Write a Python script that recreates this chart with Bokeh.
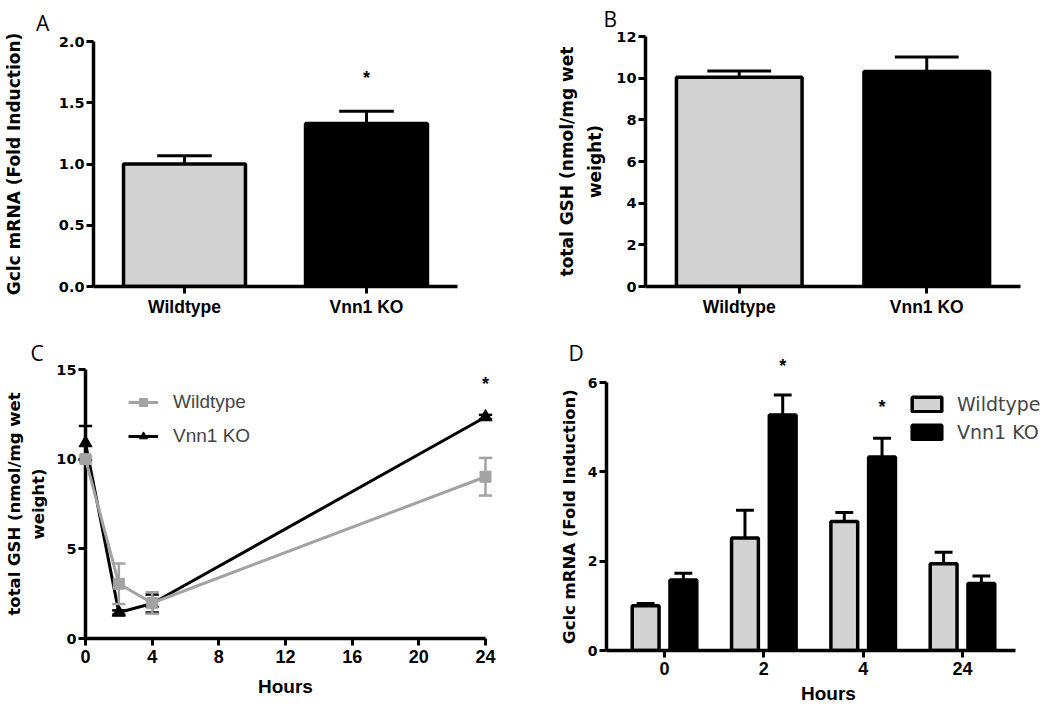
from bokeh.plotting import figure
from bokeh.models import (Range1d, FixedTicker, Legend, LegendItem, ColumnDataSource)
from bokeh.layouts import row, column
from bokeh.embed import file_html
from bokeh.resources import INLINE
from bokeh.core.properties import value

# ---------------- data ----------------
groups = ["Wildtype", "Vnn1 KO"]
a_mean = [1.00, 1.33]
a_err = [0.067, 0.10]
a_star_group = ["Vnn1 KO"]
a_star_y = [1.70]

b_mean = [10.05, 10.32]
b_err = [0.30, 0.70]

c_hours = [0, 2, 4, 24]
c_wt = [10.0, 3.05, 1.98, 9.02]
c_wt_err = [0.15, 1.13, 0.60, 1.05]
c_ko = [10.9, 1.45, 1.95, 12.35]
c_ko_err = [0.95, 0.12, 0.50, 0.12]
c_star_x = [24]
c_star_y = [14.2]

d_hours = ["0", "2", "4", "24"]
d_wt = [1.00, 2.52, 2.89, 1.94]
d_wt_err = [0.05, 0.62, 0.20, 0.26]
d_ko = [1.58, 5.27, 4.33, 1.50]
d_ko_err = [0.15, 0.45, 0.42, 0.17]
d_star_hours = ["2", "4"]
d_star_y = [6.36, 5.46]

a_yticks = [0, 0.5, 1.0, 1.5, 2.0]
a_ytick_labels = ["0.0", "0.5", "1.0", "1.5", "2.0"]
b_yticks = [0, 2, 4, 6, 8, 10, 12]
c_yticks = [0, 5, 10, 15]
c_xticks = [0, 4, 8, 12, 16, 20, 24]
d_yticks = [0, 2, 4, 6]

XFONT = "Liberation Sans"
YFONT = "DejaVu Sans"
LETTER_FONT = "Open Sans"
GRAY_FILL = "#d3d3d3"
GRAY_LINE = "#a3a3a3"


def style(p, ytick_size="14.5px", xtick_size="17.5px"):
    p.outline_line_color = None
    p.grid.visible = False
    p.background_fill_color = "white"
    p.border_fill_color = "white"
    for ax in p.axis:
        ax.axis_line_width = 3.5
        ax.axis_line_color = "black"
        ax.major_tick_line_width = 3
        ax.major_tick_line_color = "black"
        ax.major_tick_out = 7
        ax.major_tick_in = 0
        ax.minor_tick_line_color = None
        ax.major_label_text_font_style = "bold"
        ax.major_label_text_color = "black"
        ax.axis_label_text_font_style = "bold"
        ax.axis_label_text_color = "black"
        ax.major_label_standoff = 2
    p.yaxis.major_label_text_font = YFONT
    p.yaxis.axis_label_text_font = YFONT
    p.xaxis.major_label_text_font = XFONT
    p.xaxis.axis_label_text_font = XFONT
    p.yaxis.major_label_text_font_size = ytick_size
    p.xaxis.major_label_text_font_size = xtick_size


def letter(p, text, x, y):
    p.text(x=[x], y=[y], text=[text], text_font=value(LETTER_FONT), text_font_size="21px",
           text_color="black", text_baseline="alphabetic", text_align="left", level="overlay")


def bar_panel(means, errs, yrange, yticks, ylabel, cap, borders, label_standoff):
    l, r, t, b = borders
    xs = [i + 0.5 for i in range(len(groups))]
    p = figure(width=525, height=330, x_range=Range1d(0, len(groups)),
               y_range=Range1d(*yrange), output_backend="svg", toolbar_location=None,
               frame_align=False,
               min_border_left=l, min_border_right=r, min_border_top=t, min_border_bottom=b)
    src = ColumnDataSource(dict(x=xs, mean=means,
                                hi=[m + e for m, e in zip(means, errs)],
                                cl=[x - cap / 2 for x in xs], cr=[x + cap / 2 for x in xs],
                                fill=[GRAY_FILL, "black"]))
    p.segment(x0="x", y0="mean", x1="x", y1="hi", line_width=3, line_color="black", source=src)
    p.segment(x0="cl", x1="cr", y0="hi", y1="hi", line_width=3, line_color="black", source=src)
    p.vbar(x="x", top="mean", bottom=0, width=0.67, fill_color="fill", line_color="black",
           line_width=3.5, source=src)
    style(p)
    p.yaxis.ticker = FixedTicker(ticks=yticks)
    p.yaxis.axis_label = ylabel
    p.yaxis.axis_label_text_font_size = "17px"
    p.yaxis.axis_label_text_line_height = 1.4
    p.yaxis.axis_label_standoff = label_standoff
    p.xaxis.ticker = FixedTicker(ticks=xs)
    p.xaxis.major_label_overrides = {x: g for x, g in zip(xs, groups)}
    p.xaxis.major_label_standoff = 3
    return p, xs


# ---------------- panel A ----------------
pA, a_x = bar_panel(a_mean, a_err, (0, 2.0), a_yticks,
                    "Gclc mRNA (Fold Induction)", 0.30, (90, 68, 41, 44), 32)
pA.yaxis.major_label_overrides = {t: s for t, s in zip(a_yticks, a_ytick_labels)}
pA.text(x=[a_x[groups.index(g)] for g in a_star_group], y=a_star_y, text=["*"] * len(a_star_group),
        text_align="center", text_baseline="middle",
        text_font=value(XFONT), text_font_style="bold", text_font_size="18px", text_color="black")
letter(pA, "A", -0.316, 2.148)

# ---------------- panel B ----------------
pB, b_x = bar_panel(b_mean, b_err, (0, 12), b_yticks,
                    "total GSH (nmol/mg wet\nweight)", 0.34, (120, 30, 36, 44), 8)
letter(pB, "B", -0.224, 12.85)

# ---------------- panel C ----------------
pC = figure(width=525, height=378, x_range=Range1d(0, 24), y_range=Range1d(0, 15),
            output_backend="svg", toolbar_location=None, frame_align=False,
            min_border_left=85, min_border_right=40, min_border_top=39, min_border_bottom=70)
csrc = ColumnDataSource(dict(
    h=c_hours, wt=c_wt, ko=c_ko,
    wt_lo=[v - e for v, e in zip(c_wt, c_wt_err)], wt_hi=[v + e for v, e in zip(c_wt, c_wt_err)],
    ko_lo=[v - e for v, e in zip(c_ko, c_ko_err)], ko_hi=[v + e for v, e in zip(c_ko, c_ko_err)],
    cl=[h - 0.4 for h in c_hours], cr=[h + 0.4 for h in c_hours]))

ko_line = pC.line("h", "ko", line_color="black", line_width=3, source=csrc, level="overlay")
pC.segment(x0="h", x1="h", y0="ko_lo", y1="ko_hi", line_color="black", line_width=2.5,
           source=csrc, level="overlay")
for col in ("ko_lo", "ko_hi"):
    pC.segment(x0="cl", x1="cr", y0=col, y1=col, line_color="black", line_width=2.5,
               source=csrc, level="overlay")
ko_sc = pC.scatter("h", "ko", marker="triangle", size=13, fill_color="black",
                   line_color="black", source=csrc, level="overlay")

wt_line = pC.line("h", "wt", line_color=GRAY_LINE, line_width=3, source=csrc, level="overlay")
pC.segment(x0="h", x1="h", y0="wt_lo", y1="wt_hi", line_color=GRAY_LINE, line_width=2.5,
           source=csrc, level="overlay")
for col in ("wt_lo", "wt_hi"):
    pC.segment(x0="cl", x1="cr", y0=col, y1=col, line_color=GRAY_LINE, line_width=2.5,
               source=csrc, level="overlay")
wt_sc = pC.scatter("h", "wt", marker="square", size=11, fill_color=GRAY_LINE,
                   line_color=GRAY_LINE, source=csrc, level="overlay")

pC.text(x=c_star_x, y=c_star_y, text=["*"], text_align="center", text_baseline="middle",
        text_font=value(XFONT), text_font_style="bold", text_font_size="18px",
        text_color="black", level="overlay")
style(pC, "14.5px", "18px")
pC.yaxis.ticker = FixedTicker(ticks=c_yticks)
pC.xaxis.ticker = FixedTicker(ticks=c_xticks)
pC.yaxis.axis_label = "total GSH (nmol/mg wet\nweight)"
pC.yaxis.axis_label_text_font_size = "16.5px"
pC.yaxis.axis_label_text_line_height = 1.3
pC.yaxis.axis_label_standoff = 5
pC.xaxis.axis_label = "Hours"
pC.xaxis.axis_label_text_font_size = "19px"
pC.xaxis.axis_label_standoff = 10
pC.xaxis.major_label_standoff = 4
legC = Legend(items=[LegendItem(label="Wildtype", renderers=[wt_line, wt_sc]),
                     LegendItem(label="Vnn1 KO", renderers=[ko_line, ko_sc])],
              location=(43, 191), label_text_font=XFONT, label_text_font_size="19px",
              glyph_width=30, glyph_height=20, label_height=20, label_standoff=15,
              spacing=12, padding=0, margin=0, border_line_color=None,
              background_fill_alpha=0)
pC.add_layout(legC)
letter(pC, "C", -3.3, 15.9)

# ---------------- panel D ----------------
d_x = [i + 0.5 for i in range(len(d_hours))]
OFF = 0.19
CAP = 0.09
pD = figure(width=525, height=378, x_range=Range1d(-0.084, 4.386), y_range=Range1d(0, 6),
            output_backend="svg", toolbar_location=None, frame_align=False,
            min_border_left=81, min_border_right=0, min_border_top=52, min_border_bottom=58)
dsrc = ColumnDataSource(dict(
    wx=[x - OFF for x in d_x], kx=[x + OFF for x in d_x], wt=d_wt, ko=d_ko,
    wt_hi=[v + e for v, e in zip(d_wt, d_wt_err)],
    ko_hi=[v + e for v, e in zip(d_ko, d_ko_err)],
    wl=[x - OFF - CAP for x in d_x], wr=[x - OFF + CAP for x in d_x],
    kl=[x + OFF - CAP for x in d_x], kr=[x + OFF + CAP for x in d_x]))
for xk, key, l, r in (("wx", "wt", "wl", "wr"), ("kx", "ko", "kl", "kr")):
    pD.segment(x0=xk, x1=xk, y0=key, y1=key + "_hi", line_color="black", line_width=3, source=dsrc)
    pD.segment(x0=l, x1=r, y0=key + "_hi", y1=key + "_hi", line_color="black", line_width=3,
               source=dsrc)
wt_bar = pD.vbar(x="wx", top="wt", bottom=0, width=0.27,
                 fill_color=GRAY_FILL, line_color="black", line_width=3.5, source=dsrc)
ko_bar = pD.vbar(x="kx", top="ko", bottom=0, width=0.27,
                 fill_color="black", line_color="black", line_width=3.5, source=dsrc)
pD.text(x=[d_x[d_hours.index(h)] + OFF for h in d_star_hours], y=d_star_y,
        text=["*"] * len(d_star_hours),
        text_align="center", text_baseline="middle", text_font=value(XFONT),
        text_font_style="bold", text_font_size="18px", text_color="black", level="overlay")
style(pD, "14px", "18px")
pD.yaxis.ticker = FixedTicker(ticks=d_yticks)
pD.xaxis.ticker = FixedTicker(ticks=d_x)
pD.xaxis.major_label_overrides = {x: h for x, h in zip(d_x, d_hours)}
pD.xaxis.bounds = (-0.084, 4.03)
pD.yaxis.axis_label = "Gclc mRNA (Fold Induction)"
pD.yaxis.axis_label_text_font_size = "16.5px"
pD.yaxis.axis_label_standoff = 6
pD.xaxis.axis_label = "Hours"
pD.xaxis.axis_label_text_font_size = "19px"
pD.xaxis.axis_label_standoff = 5
pD.xaxis.major_label_standoff = 4
legD = Legend(items=[LegendItem(label="Wildtype", renderers=[wt_bar]),
                     LegendItem(label="Vnn1 KO", renderers=[ko_bar])],
              location=(302, 207), label_text_font=YFONT, label_text_font_size="19px",
              glyph_width=37, glyph_height=18, label_height=20, label_standoff=12,
              spacing=6, padding=0, margin=0, border_line_color=None,
              background_fill_alpha=0)
pD.add_layout(legD)
letter(pD, "D", -0.466, 6.65)

layout = row(column(pA, pC), column(pB, pD))
open("out.html", "w").write(file_html(layout, INLINE))
